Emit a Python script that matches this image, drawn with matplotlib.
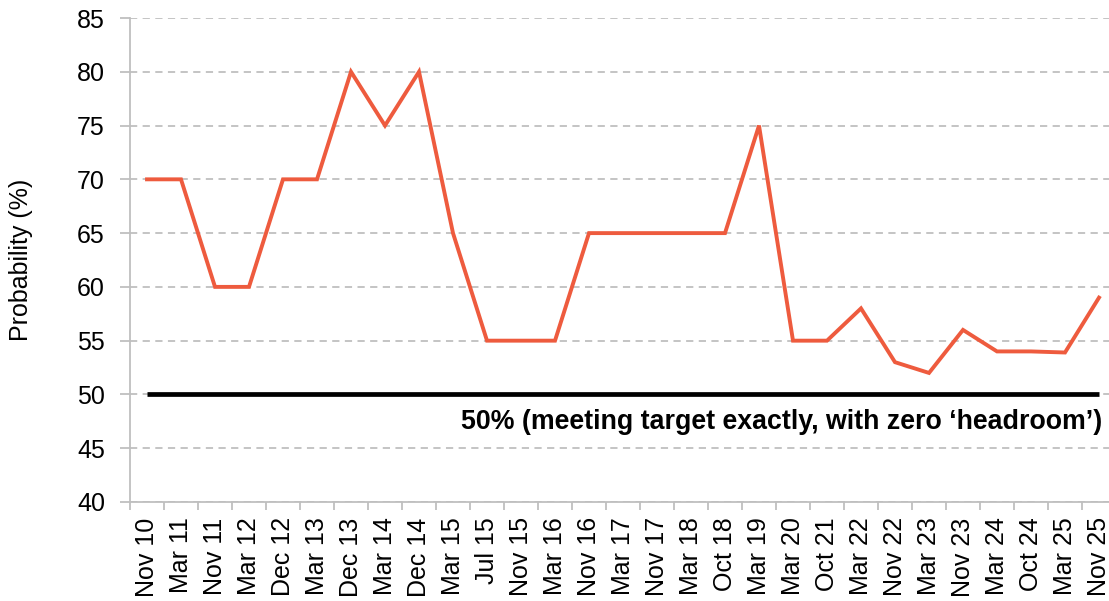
import matplotlib
matplotlib.use("Agg")
import matplotlib.pyplot as plt

# survey dates
dates = ["Nov 10", "Mar 11", "Nov 11", "Mar 12", "Dec 12", "Mar 13", "Dec 13",
         "Mar 14", "Dec 14", "Mar 15", "Jul 15", "Nov 15", "Mar 16", "Nov 16",
         "Mar 17", "Nov 17", "Mar 18", "Oct 18", "Mar 19", "Mar 20", "Oct 21",
         "Mar 22", "Nov 22", "Mar 23", "Nov 23", "Mar 24", "Oct 24", "Mar 25",
         "Nov 25"]

# probability of meeting the target (%)
probability = [70, 70, 60, 60, 70, 70, 80, 75, 80, 65, 55, 55, 55, 65, 65, 65,
               65, 65, 75, 55, 55, 58, 53, 52, 56, 54, 54, 53.9, 59]

target = [50] * len(dates)

plt.rcParams['font.family'] = ['Liberation Sans', 'DejaVu Sans']

fig = plt.figure(figsize=(11.09, 6.01), dpi=100)
ax = fig.add_axes([130 / 1109, 99 / 601, 986 / 1109, 484 / 601])

x = list(range(len(dates)))
ax.plot(x, target, color="black", lw=3.4, solid_capstyle="butt", zorder=3)
ax.plot(x, probability, color="#EE5B3E", lw=2.8, solid_joinstyle="miter", zorder=4)

ax.text(28.1, 47.4, "50% (meeting target exactly, with zero \u2018headroom\u2019)",
        ha="right", va="center", fontsize=19.3, fontweight="bold")

ax.set_xlim(-0.5, 28.5)
ax.set_ylim(40, 85)
ax.set_yticks(range(40, 90, 5))
ax.set_xticks(x)
ax.set_xticklabels(dates, rotation=90, fontsize=18)
ax.set_xticks([i + 0.5 for i in range(-1, len(dates))], minor=True)
ax.tick_params(axis="x", which="major", length=0, pad=11)
ax.tick_params(axis="x", which="minor", length=6, color="#BFBFBF", width=1.3)
ax.tick_params(axis="y", labelsize=18, length=7, color="#BFBFBF", width=1.3, pad=11)

ax.set_ylabel("Probability (%)", fontsize=18)
ax.yaxis.set_label_coords(-0.098, 0.5)

ax.grid(axis="y", color="#BFBFBF", linestyle=(0, (4, 3)), lw=1.3)
ax.set_axisbelow(True)
for side in ["top", "right"]:
    ax.spines[side].set_visible(False)
for side in ["left", "bottom"]:
    ax.spines[side].set_color("#BFBFBF")
    ax.spines[side].set_linewidth(1.3)

fig.savefig("out.png", dpi=100)
